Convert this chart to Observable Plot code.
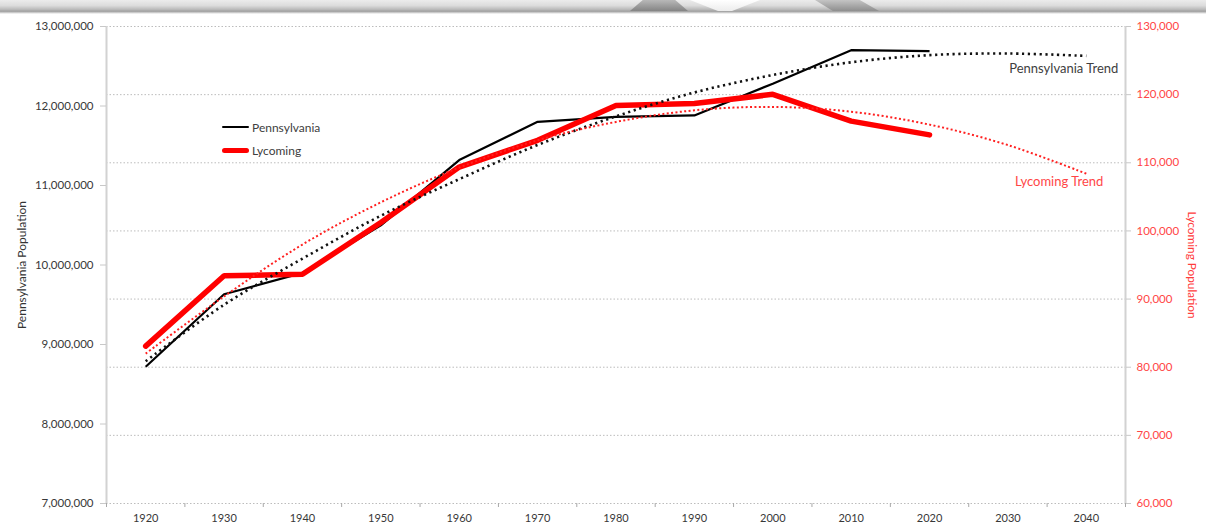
<!DOCTYPE html>
<html>
<head>
<meta charset="utf-8">
<script src="https://cdn.jsdelivr.net/npm/d3@7"></script>
<script src="https://cdn.jsdelivr.net/npm/@observablehq/plot@0.6"></script>
<style>
  body { margin: 0; background: #fff; font-family: Lato, "Open Sans", sans-serif; }
  #wrap { position: relative; width: 1206px; height: 529px; overflow: hidden; background: #fff; }
  #chart { position: absolute; left: 0; top: 0; }
  #banner { position: absolute; left: 0; top: 0; width: 1206px; height: 14px;
    background: linear-gradient(to bottom, #ececec 0%, #dcdcdc 40%, #b4b4b4 72%, #9c9c9c 80%, #ffffff 100%); }
  .shape { position: absolute; top: 0; height: 11px; }
  #s1 { left: 630px; width: 58px; background: linear-gradient(to bottom, #b8b8b8, #848484);
    clip-path: polygon(22% 0, 78% 0, 100% 100%, 0 100%); }
  #s2 { left: 690px; width: 70px; background: linear-gradient(to bottom, #ffffff, #ececec);
    clip-path: polygon(0 0, 100% 0, 60% 100%, 40% 100%); }
  #s3 { left: 815px; width: 64px; background: linear-gradient(to bottom, #c4c4c4, #8e8e8e);
    clip-path: polygon(0 0, 70% 0, 100% 100%, 28% 100%); }
  .legend { position: absolute; left: 222px; font-size: 12px; color: #404040; display: flex; align-items: center; height: 16px; }
  .legend .sw { display: inline-block; width: 27px; margin-right: 3px; border-radius: 3px; }
</style>
</head>
<body>
<div id="wrap">
  <div id="chart"></div>
  <div id="banner"></div>
  <div class="shape" id="s1"></div>
  <div class="shape" id="s2"></div>
  <div class="shape" id="s3"></div>
  <div class="legend" style="top:119px"><span class="sw" style="height:2.4px;background:#000"></span>Pennsylvania</div>
  <div class="legend" style="top:142px"><span class="sw" style="height:5px;background:#ff0000"></span>Lycoming</div>
</div>
<script>
// ---- data ----
const years = [1920, 1930, 1940, 1950, 1960, 1970, 1980, 1990, 2000, 2010, 2020];
const trendYears = [1920, 1930, 1940, 1950, 1960, 1970, 1980, 1990, 2000, 2010, 2020, 2030, 2040];
const pennsylvania = [8720017, 9631350, 9900180, 10498012, 11319366, 11800766, 11863895, 11881643, 12281054, 12702379, 12690000];
const lycoming = [83100, 93421, 93633, 101249, 109367, 113296, 118416, 118710, 120044, 116111, 114100];
const pennsylvaniaTrend = [8790000, 9500000, 10080000, 10620000, 11080000, 11510000, 11870000, 12170000, 12390000, 12550000, 12640000, 12660000, 12630000];
const lycomingTrend = [82000, 90400, 98000, 104200, 109300, 113300, 116000, 117700, 118200, 117500, 115600, 112600, 108400];
const leftTicks = [7000000, 8000000, 9000000, 10000000, 11000000, 12000000, 13000000];
const rightTicks = [60000, 70000, 80000, 90000, 100000, 110000, 120000, 130000];
const leftTitle = "Pennsylvania Population";
const rightTitle = "Lycoming Population";
const paTrendLabel = "Pennsylvania Trend";
const lyTrendLabel = "Lycoming Trend";

// map the right (Lycoming) axis onto the left scale
const L0 = 7000000, L1 = 13000000, R0 = 60000, R1 = 130000;
const toLeft = v => L0 + (v - R0) * (L1 - L0) / (R1 - R0);
const fromLeft = v => Math.round(R0 + (v - L0) * (R1 - R0) / (L1 - L0));
const fmt = d3.format(",");

const paData = years.map((y, i) => ({year: y, v: pennsylvania[i]}));
const lyData = years.map((y, i) => ({year: y, v: toLeft(lycoming[i])}));
const paTrendData = trendYears.map((y, i) => ({year: y, v: pennsylvaniaTrend[i]}));
const lyTrendData = trendYears.map((y, i) => ({year: y, v: toLeft(lycomingTrend[i])}));
const boundaries = trendYears.map(y => y - 5).concat([trendYears[trendYears.length - 1] + 5]);
const xMin = boundaries[0], xMax = boundaries[boundaries.length - 1];

const chart = Plot.plot({
  width: 1206,
  height: 529,
  marginTop: 26,
  marginBottom: 26,
  marginLeft: 106,
  marginRight: 81,
  x: {type: "linear", domain: [xMin, xMax]},
  y: {domain: [L0, L1]},
  style: {fontFamily: "Lato, 'Open Sans', sans-serif", fontSize: "11.5px", color: "#404040", background: "transparent"},
  marks: [
    Plot.ruleY(rightTicks.map(toLeft), {stroke: "#bcbcbc", strokeWidth: 1, strokeDasharray: "1.5,2"}),
    Plot.ruleX([xMin], {stroke: "#d2d2d2", strokeWidth: 2}),
    Plot.ruleX([xMax], {stroke: "#d2d2d2", strokeWidth: 2}),
    Plot.axisY(leftTicks, {anchor: "left", tickSize: 6, tickPadding: 7, stroke: "#c8c8c8", fill: "#383838",
      tickFormat: d => fmt(d), label: null, fontSize: 11.5}),
    Plot.axisY(rightTicks.map(toLeft), {anchor: "right", tickSize: 5, tickPadding: 6, stroke: "#c8c8c8", fill: "#ff4646",
      tickFormat: d => fmt(fromLeft(d)), label: null, fontSize: 11.5}),
    Plot.axisX(boundaries, {tickSize: 4, stroke: "#a8a8a8", tickFormat: () => "", label: null}),
    Plot.axisX(trendYears, {tickSize: 0, tickPadding: 11, tickFormat: d => String(d), fill: "#383838", label: null, fontSize: 11}),
    Plot.text([leftTitle], {frameAnchor: "left", dx: -84, rotate: -90, textAnchor: "middle", text: d => d, fill: "#333", fontSize: 12}),
    Plot.text([rightTitle], {frameAnchor: "right", dx: 66, rotate: 90, textAnchor: "middle", text: d => d, fill: "#ff3c3c", fontSize: 11.8}),
    Plot.line(paData, {x: "year", y: "v", stroke: "#000", strokeWidth: 2.2, strokeLinejoin: "miter", strokeLinecap: "butt"}),
    Plot.line(lyData, {x: "year", y: "v", stroke: "#ff0000", strokeWidth: 5.5, strokeLinejoin: "miter"}),
    Plot.line(paTrendData, {x: "year", y: "v", stroke: "#111", strokeWidth: 2.6, strokeDasharray: "2.2,3.6", strokeLinecap: "butt", curve: "catmull-rom"}),
    Plot.line(lyTrendData, {x: "year", y: "v", stroke: "#ff2020", strokeWidth: 2, strokeDasharray: "2,2.4", strokeLinecap: "butt", curve: "catmull-rom"}),
    Plot.text([{year: trendYears[12], v: pennsylvaniaTrend[12]}], {x: "year", y: "v", text: () => paTrendLabel,
      textAnchor: "end", dx: 32, dy: 13, fill: "#404040", fontSize: 13}),
    Plot.text([{year: trendYears[12], v: toLeft(lycomingTrend[12])}], {x: "year", y: "v", text: () => lyTrendLabel,
      textAnchor: "end", dx: 17, dy: 8, fill: "#ff4646", fontSize: 13})
  ]
});
document.getElementById("chart").appendChild(chart);
</script>
</body>
</html>
